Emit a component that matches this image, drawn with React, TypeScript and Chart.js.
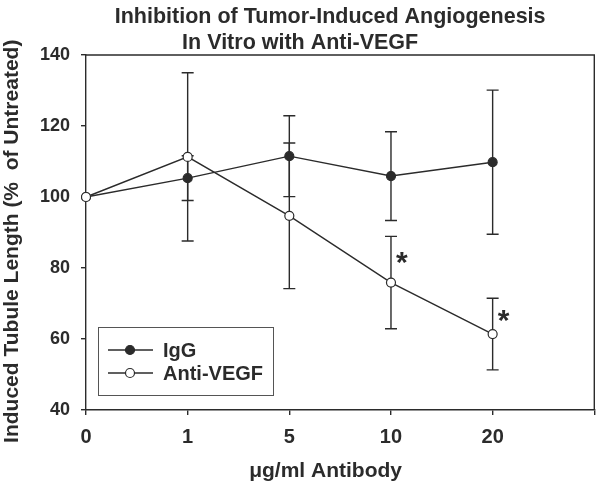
import React, { useEffect, useRef } from 'react';
import { Chart, registerables } from 'chart.js';

Chart.register(...registerables);

// ---------- data ----------
const TITLE_LINES = ['Inhibition of Tumor-Induced Angiogenesis', 'In Vitro with Anti-VEGF'];
const X_TITLE = 'μg/ml Antibody     ';
const Y_TITLE = 'Induced Tubule Length (%  of Untreated)   ';
const CATEGORIES = ['0', '1', '5', '10', '20', ''];
const SERIES_NAMES = ['IgG', 'Anti-VEGF'];
const IGG = [100, 105.3, 111.5, 105.9, 109.8];
const IGG_ERR = [0, 6.3, 11.4, 12.5, 20.3];
const ANTI = [100, 111.3, 94.7, 75.9, 61.4];
const ANTI_ERR = [0, 23.7, 20.5, 13.0, 10.1];
const STAR_LEVELS = [null, null, null, 82.8, 66.4];
const Y_MIN = 40;
const Y_MAX = 140;
const Y_STEP = 20;

const INK = '#2b2b2b';
const FONT = '"Liberation Sans", Arial, Helvetica, sans-serif';

const errorBarPlugin = {
  id: 'errorBars',
  beforeDatasetsDraw(chart: any) {
    const { ctx } = chart;
    const y = chart.scales.y;
    chart.data.datasets.forEach((ds: any, i: number) => {
      const meta = chart.getDatasetMeta(i);
      const errs: number[] = ds.errors || [];
      ctx.save();
      ctx.strokeStyle = INK;
      ctx.lineWidth = 1.4;
      meta.data.forEach((pt: any, j: number) => {
        const e = errs[j];
        if (!e) return;
        const v = ds.data[j];
        const x = pt.x;
        const yt = y.getPixelForValue(v + e);
        const yb = y.getPixelForValue(v - e);
        ctx.beginPath();
        ctx.moveTo(x, yt);
        ctx.lineTo(x, yb);
        ctx.moveTo(x - 6, yt);
        ctx.lineTo(x + 6, yt);
        ctx.moveTo(x - 6, yb);
        ctx.lineTo(x + 6, yb);
        ctx.stroke();
      });
      ctx.restore();
    });
  },
};

const decorPlugin = {
  id: 'decor',
  afterDatasetsDraw(chart: any) {
    const { ctx } = chart;
    const xs = chart.scales.x;
    const ys = chart.scales.y;
    ctx.save();
    ctx.fillStyle = INK;
    ctx.font = `bold 30px ${FONT}`;
    STAR_LEVELS.forEach((lvl, j) => {
      if (lvl == null) return;
      const cx = xs.getPixelForValue(j) + 11;
      const cy = ys.getPixelForValue(lvl);
      const m = ctx.measureText('*');
      const h = m.actualBoundingBoxAscent + m.actualBoundingBoxDescent;
      const w = m.actualBoundingBoxLeft + m.actualBoundingBoxRight;
      ctx.textAlign = 'left';
      ctx.textBaseline = 'alphabetic';
      ctx.fillText('*', cx - w / 2 + m.actualBoundingBoxLeft, cy - h / 2 + m.actualBoundingBoxAscent);
    });
    ctx.restore();
  },
  afterDraw(chart: any) {
    const { ctx, chartArea: a } = chart;
    ctx.save();
    // frame
    ctx.strokeStyle = INK;
    ctx.lineWidth = 1.4;
    ctx.beginPath();
    ctx.moveTo(a.left, a.top);
    ctx.lineTo(a.right, a.top);
    ctx.lineTo(a.right, a.bottom);
    ctx.stroke();
    // title
    ctx.fillStyle = INK;
    ctx.font = `bold 21.5px ${FONT}`;
    ctx.textAlign = 'center';
    ctx.textBaseline = 'alphabetic';
    const mid = (a.left + a.right) / 2;
    ctx.fillText(TITLE_LINES[0], mid - 10, 23);
    ctx.fillText(TITLE_LINES[1], mid - 40, 49);
    // legend
    const bx = a.left + 12;
    const by = a.bottom - 83;
    const bw = 175;
    const bh = 68;
    ctx.strokeStyle = '#555';
    ctx.lineWidth = 1;
    ctx.strokeRect(bx + 0.5, by + 0.5, bw, bh);
    chart.data.datasets.forEach((ds: any, i: number) => {
      const ry = by + 23 + i * 23;
      ctx.strokeStyle = ds.borderColor;
      ctx.lineWidth = 1.4;
      ctx.beginPath();
      ctx.moveTo(bx + 10, ry);
      ctx.lineTo(bx + 55, ry);
      ctx.stroke();
      ctx.beginPath();
      ctx.arc(bx + 32, ry, 4.5, 0, Math.PI * 2);
      ctx.fillStyle = ds.pointBackgroundColor;
      ctx.fill();
      ctx.strokeStyle = ds.pointBorderColor;
      ctx.lineWidth = 1.2;
      ctx.stroke();
      ctx.fillStyle = INK;
      ctx.font = `bold 20px ${FONT}`;
      ctx.textAlign = 'left';
      ctx.textBaseline = 'middle';
      ctx.fillText(ds.label, bx + 65, ry + 1);
    });
    ctx.restore();
  },
};

export default function App() {
  const ref = useRef<HTMLCanvasElement | null>(null);
  useEffect(() => {
    if (!ref.current) return;
    const chart = new Chart(ref.current, {
      type: 'line',
      data: {
        labels: CATEGORIES,
        datasets: [
          {
            label: SERIES_NAMES[0],
            data: IGG,
            errors: IGG_ERR,
            borderColor: INK,
            borderWidth: 1.4,
            pointRadius: 4.5,
            pointBorderWidth: 1.2,
            pointBackgroundColor: INK,
            pointBorderColor: INK,
            tension: 0,
            fill: false,
            order: 2,
          } as any,
          {
            label: SERIES_NAMES[1],
            data: ANTI,
            errors: ANTI_ERR,
            borderColor: INK,
            borderWidth: 1.4,
            pointRadius: 4.5,
            pointBorderWidth: 1.2,
            pointBackgroundColor: '#ffffff',
            pointBorderColor: INK,
            tension: 0,
            fill: false,
            order: 1,
          } as any,
        ],
      },
      options: {
        responsive: false,
        animation: false,
        devicePixelRatio: 1,
        layout: { padding: { top: 55, right: 2, left: 0, bottom: 0 } },
        plugins: {
          legend: { display: false },
          title: { display: false },
          tooltip: { enabled: false },
        },
        scales: {
          x: {
            type: 'category',
            offset: false,
            grid: { drawOnChartArea: false, drawTicks: true, tickLength: 5, color: INK, lineWidth: 1.4 },
            border: { display: true, color: INK, width: 1.4 },
            ticks: {
              color: INK,
              font: { family: FONT, size: 20, weight: 'bold' },
              padding: 10,
              maxRotation: 0,
              autoSkip: false,
            },
            title: {
              display: true,
              text: X_TITLE,
              color: INK,
              font: { family: FONT, size: 21, weight: 'bold' },
              padding: { top: 0, bottom: 0 },
            },
            afterFit: (s: any) => {
              s.height = 74;
              s.paddingLeft = 0;
              s.paddingRight = 0;
            },
          },
          y: {
            min: Y_MIN,
            max: Y_MAX,
            grid: { drawOnChartArea: false, drawTicks: true, tickLength: 5, color: INK, lineWidth: 1.4 },
            border: { display: true, color: INK, width: 1.4 },
            ticks: {
              stepSize: Y_STEP,
              color: INK,
              font: { family: FONT, size: 18, weight: 'bold' },
              padding: 11,
            },
            title: {
              display: true,
              text: Y_TITLE,
              color: INK,
              font: { family: FONT, size: 21, weight: 'bold' },
              padding: { top: 0, bottom: 0 },
            },
            afterFit: (s: any) => {
              s.width = 86;
            },
          },
        },
      } as any,
      plugins: [errorBarPlugin, decorPlugin],
    });
    return () => chart.destroy();
  }, []);
  return (
    <div style={{ position: 'absolute', left: 0, top: 0, width: 600, height: 484, background: '#fff' }}>
      <canvas ref={ref} width={600} height={484} />
    </div>
  );
}
